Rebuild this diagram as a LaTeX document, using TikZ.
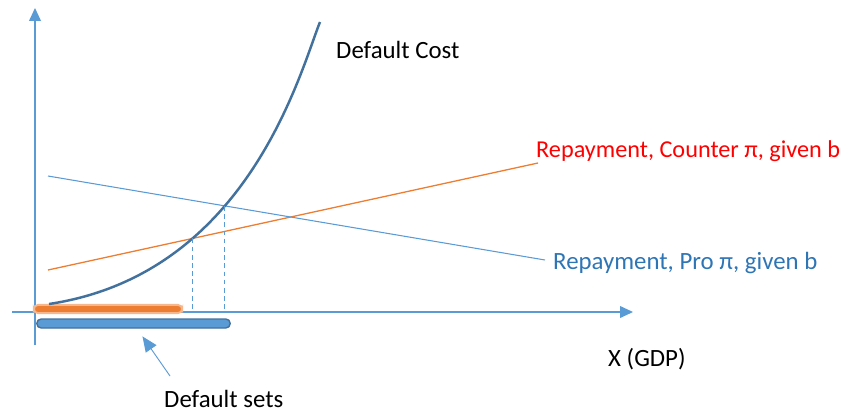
\documentclass[tikz,border=0pt]{standalone}
\usepackage{fontspec}
\setmainfont{Carlito}
\usetikzlibrary{arrows.meta,intersections}
\definecolor{axisblue}{RGB}{91,155,213}
\definecolor{costblue}{RGB}{65,113,156}
\definecolor{lineorange}{RGB}{237,125,49}
\definecolor{textblue}{RGB}{46,117,182}

\begin{document}
\begin{tikzpicture}[x=0.03cm, y=-0.03cm, font=\fontsize{21.2}{25}\selectfont,
		axis/.style={draw=axisblue, line width=1.1pt, -{Triangle[length=11pt,width=10pt]}},
		setshape/.style={rectangle, rounded corners=0.13cm, inner sep=0pt, line width=1.2pt},
		drop/.style={draw=axisblue, line width=1pt, dash pattern=on 4pt off 3pt},
		label/.style={anchor=base west, inner sep=0pt}]
		%%%%% START %%%%%
		
		\useasboundingbox (0,0) rectangle (846,412);
		
		\draw[axis] (35,345) -- (35,8);
		\draw[axis] (12,312) -- (633,312);
		\coordinate (xaxis) at (35,312);
		
		\node[setshape, fill=lineorange, draw=lineorange!55, line width=1.6pt, minimum width=4.45cm, minimum height=0.25cm] (counterset) at (108,309) {};
		\node[setshape, fill=axisblue, draw=costblue, minimum width=5.8cm, minimum height=0.27cm] (proset) at (133.5,323.5) {};
		
		\draw[lineorange, line width=1.1pt, name path=counter] (48,270) -- (538,163);
		\draw[axisblue, line width=0.9pt, name path=pro] (48,176) -- (545,260);
		\draw[costblue, line width=2.1pt, name path=cost] (49,304) .. controls (248,274) and (300,72) .. (320,22);
		
		\path[name intersections={of=cost and counter, by=cutcounter}];
		\path[name intersections={of=cost and pro, by=cutpro}];
		\draw[drop] (cutcounter) -- (cutcounter |- xaxis);
		\draw[drop] (cutpro) -- (cutpro |- xaxis);
		
		\node[label] (costlabel) at (336,58) {Default Cost};
		\node[label, text=red, font=\fontsize{20.7}{25}\selectfont] (counterlabel) at (536,157) {Repayment, Counter π, given b};
		\node[label, text=textblue] (prolabel) at (553,269) {Repayment, Pro π, given b};
		\node[label] (gdplabel) at (608,366) {X (GDP)};
		\node[label] (setslabel) at (164,407) {Default sets};
		
		\coordinate (setstail) at (170,376);
		\draw[axisblue, line width=0.8pt, -{Triangle[length=13pt,width=11pt]}, shorten >=8pt] (setstail) -- (proset);
		
		%%%%% END %%%%%
\end{tikzpicture}
\end{document}
